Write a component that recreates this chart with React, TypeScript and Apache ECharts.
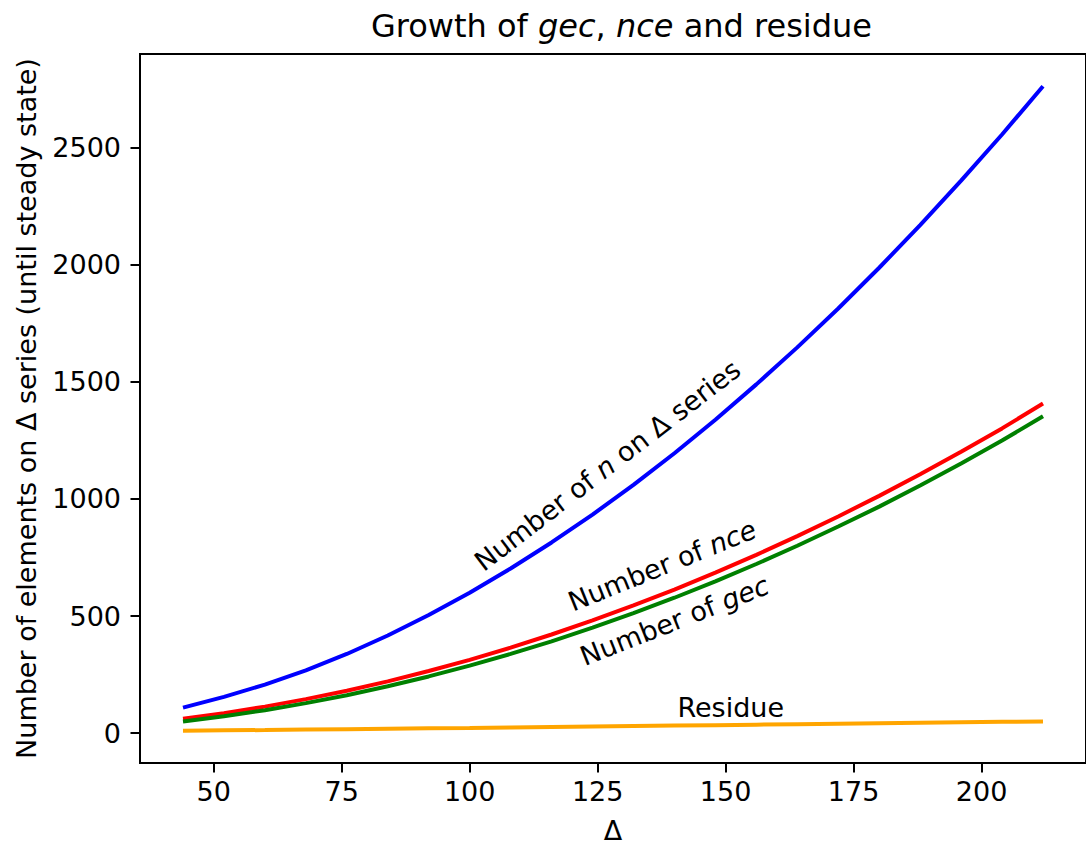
import React, { useEffect, useRef } from "react";
import * as echarts from "echarts";

// Δ values (x) and series
const delta = [44, 52, 60, 68, 76, 84, 92, 100, 108, 116, 124, 132, 140, 148, 156, 164, 172, 180, 188, 196, 204, 212];
const nOnDelta = [109, 155, 207, 268, 338, 417, 504, 599, 703, 814, 933, 1060, 1195, 1338, 1489, 1647, 1813, 1987, 2169, 2359, 2556, 2762];
const nce = [61, 85, 113, 145, 181, 221, 265, 313, 365, 421, 481, 545, 613, 685, 761, 841, 925, 1013, 1105, 1201, 1301, 1407];
const gec = [50, 72, 98, 128, 162, 200, 242, 288, 338, 392, 450, 512, 578, 648, 722, 800, 882, 967, 1057, 1151, 1249, 1353];
const residue = [10, 12, 13, 15, 17, 19, 21, 22, 24, 26, 28, 30, 32, 34, 36, 38, 40, 42, 44, 46, 48, 50];

const xTicks = [50, 75, 100, 125, 150, 175, 200];
const yTicks = [0, 500, 1000, 1500, 2000, 2500];

const xRange = [35.6, 220.4];
const yRange = [-127.6, 2899.6];

const FONT = "DejaVu Sans";

type Annot = { x: number; y: number; angle: number; parts: [string, boolean][] };
const annotations: Annot[] = [
  { x: 126.9, y: 1143, angle: 37.5, parts: [["Number of ", false], ["n", true], [" on Δ series", false]] },
  { x: 137.6, y: 716, angle: 22, parts: [["Number of ", false], ["nce", true]] },
  { x: 140.0, y: 480, angle: 21.5, parts: [["Number of ", false], ["gec", true]] },
  { x: 151.0, y: 111, angle: 0, parts: [["Residue", false]] },
];

const richStyles = (size: number) => ({
  n: { fontFamily: FONT, fontSize: size, color: "#000", fill: "#000" },
  i: { fontFamily: FONT, fontSize: size, color: "#000", fill: "#000", fontStyle: "italic" },
});

const toRich = (parts: [string, boolean][]) =>
  parts.map(([t, it]) => `{${it ? "i" : "n"}|${t}}`).join("");

export default function App() {
  const ref = useRef<HTMLDivElement>(null);
  useEffect(() => {
    const chart = echarts.init(ref.current!, null, { renderer: "svg" });
    const pair = (ys: number[]) => delta.map((d, i) => [d, ys[i]]);
    const mk = (name: string, ys: number[], color: string) => ({
      name,
      type: "line",
      data: pair(ys),
      showSymbol: false,
      symbol: "none",
      smooth: false,
      lineStyle: { color, width: 4 },
      itemStyle: { color },
    });
    chart.setOption({
      animation: false,
      backgroundColor: "#fff",
      title: {
        text: toRich([["Growth of ", false], ["gec", true], [", ", false], ["nce", true], [" and residue", false]]),
        left: 616.5,
        textAlign: "center",
        top: 5,
        textStyle: { rich: richStyles(32), fontFamily: FONT, fontSize: 32, fontWeight: "normal", color: "#000" },
      },
      grid: {
        left: 140,
        top: 54,
        right: -7.3,
        bottom: 84,
        show: true,
        borderColor: "#000",
        borderWidth: 2,
        backgroundColor: "transparent",
      },
      xAxis: {
        type: "value",
        min: xRange[0],
        max: xRange[1],
        name: "Δ",
        nameLocation: "middle",
        nameGap: 54,
        nameTextStyle: { fontFamily: FONT, fontSize: 27, color: "#000" },
        axisLine: { show: true, onZero: false, lineStyle: { color: "#000", width: 2 } },
        axisTick: { show: true, customValues: xTicks, length: 9.5, lineStyle: { color: "#000", width: 2 } },
        axisLabel: { customValues: xTicks, formatter: (v: number) => String(v), fontFamily: FONT, fontSize: 27, color: "#000", margin: 15 },
        splitLine: { show: false },
      },
      yAxis: {
        type: "value",
        min: yRange[0],
        max: yRange[1],
        name: "Number of elements on Δ series (until steady state)",
        nameLocation: "middle",
        nameGap: 100,
        nameTextStyle: { fontFamily: FONT, fontSize: 27, color: "#000" },
        axisLine: { show: true, onZero: false, lineStyle: { color: "#000", width: 2 } },
        axisTick: { show: true, customValues: yTicks, length: 9.5, lineStyle: { color: "#000", width: 2 } },
        axisLabel: { customValues: yTicks, formatter: (v: number) => String(v), fontFamily: FONT, fontSize: 27, color: "#000", margin: 19 },
        splitLine: { show: false },
      },
      series: [
        mk("Number of n on Δ series", nOnDelta, "#0000ff"),
        mk("Number of nce", nce, "#ff0000"),
        mk("Number of gec", gec, "#008000"),
        mk("Residue", residue, "#ffa500"),
      ],
    });
    const graphic = annotations.map((a) => {
      const p = chart.convertToPixel({ gridIndex: 0 }, [a.x, a.y]) as number[];
      return {
        type: "text",
        x: p[0],
        y: p[1],
        rotation: (a.angle * Math.PI) / 180,
        z: 10,
        style: {
          text: toRich(a.parts),
          rich: richStyles(27),
          fontFamily: FONT,
          fontSize: 27,
          fill: "#000",
          textAlign: "center",
          textVerticalAlign: "middle",
          verticalAlign: "middle",
          align: "center",
        },
      };
    });
    chart.setOption({ graphic });
    return () => chart.dispose();
  }, []);
  return (
    <div
      ref={ref}
      style={{ position: "absolute", left: 0, top: 0, width: 1086, height: 849 }}
    />
  );
}
